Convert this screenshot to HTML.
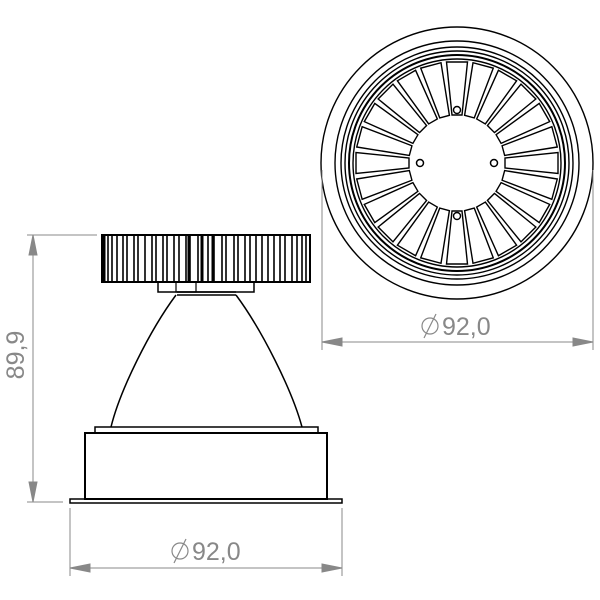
<!DOCTYPE html>
<html><head><style>
html,body{margin:0;padding:0;background:#fff;width:600px;height:600px;overflow:hidden}
svg{display:block}
text{font-family:"Liberation Sans",sans-serif;fill:#888}
</style></head><body>
<svg width="600" height="600" viewBox="0 0 600 600" xmlns="http://www.w3.org/2000/svg">
<defs>
<polygon id="sp" points="-5,-48 5,-48 10.5,-101 -10.5,-101" fill="none" stroke="#000" stroke-width="1.4"/>
</defs>
<!-- top view -->
<g fill="none" stroke="#000" stroke-width="1.4">
<circle cx="457" cy="163" r="136"/>
<circle cx="457" cy="163" r="122"/>
<circle cx="457" cy="163" r="116"/>
<circle cx="457" cy="163" r="112"/>
<circle cx="457" cy="163" r="108" stroke-width="2"/>
<circle cx="457" cy="163" r="104"/>
</g>
<g transform="translate(457,163)">
<use href="#sp" transform="rotate(0)"/><use href="#sp" transform="rotate(15)"/><use href="#sp" transform="rotate(30)"/><use href="#sp" transform="rotate(45)"/>
<use href="#sp" transform="rotate(60)"/><use href="#sp" transform="rotate(75)"/><use href="#sp" transform="rotate(90)"/><use href="#sp" transform="rotate(105)"/>
<use href="#sp" transform="rotate(120)"/><use href="#sp" transform="rotate(135)"/><use href="#sp" transform="rotate(150)"/><use href="#sp" transform="rotate(165)"/>
<use href="#sp" transform="rotate(180)"/><use href="#sp" transform="rotate(195)"/><use href="#sp" transform="rotate(210)"/><use href="#sp" transform="rotate(225)"/>
<use href="#sp" transform="rotate(240)"/><use href="#sp" transform="rotate(255)"/><use href="#sp" transform="rotate(270)"/><use href="#sp" transform="rotate(285)"/>
<use href="#sp" transform="rotate(300)"/><use href="#sp" transform="rotate(315)"/><use href="#sp" transform="rotate(330)"/><use href="#sp" transform="rotate(345)"/>
<circle cx="-37" cy="0" r="3.5" fill="#fff" stroke="#000" stroke-width="1.5"/>
<circle cx="37" cy="0" r="3.5" fill="#fff" stroke="#000" stroke-width="1.5"/>
<circle cx="0" cy="-53" r="3.5" fill="#fff" stroke="#000" stroke-width="1.4"/>
<circle cx="0" cy="53" r="3.5" fill="#fff" stroke="#000" stroke-width="1.4"/>
</g>
<!-- side view -->
<g fill="none" stroke="#000" stroke-width="1.5">
<rect x="102" y="235" width="208" height="47" stroke-width="2"/>
<path d="M108 236V281M112 236V281M117 236V281M123 236V281M127 236V281M134 236V281M138 236V281M145 236V281M152 236V281M156 236V281M163 236V281M167 236V281M174 236V281M179 236V281M186 236V281M190 236V281M198 236V281M202 236V281M208 236V281M214 236V281M222 236V281M226 236V281M234 236V281M238 236V281M245 236V281M250 236V281M256 236V281M262 236V281M268 236V281M274 236V281M280 236V281M285 236V281M292 236V281M297 236V281M302 236V281M306 236V281" stroke-width="1.6"/>
<path d="M189 236V281M202 236V281M213 236V281M104 236V281" stroke-width="3"/>
<rect x="158" y="282" width="96" height="10"/>
<rect x="176" y="282" width="20" height="10" stroke-width="1.2"/>
<path d="M177 292H236M177 295H236"/>
<path d="M176 295 C150 330 120 390 111 427"/>
<path d="M236 295 C262 330 292 390 302 427"/>
<rect x="95" y="427" width="223" height="6"/>
<rect x="85" y="433" width="242" height="66" stroke-width="2"/>
<rect x="70" y="499" width="272" height="4" stroke-width="1.5"/>
</g>
<!-- dimensions -->
<g stroke="#888" stroke-width="1" fill="#888">
<path d="M27 235H97M27 502H63M33 235V502" fill="none"/>
<polygon points="33,235 29,255 37,255"/><polygon points="33,502 29,482 37,482"/>
<path d="M70 508V576M342 508V576M70 568H342" fill="none"/>
<polygon points="70,568 90,564 90,572"/><polygon points="342,568 322,564 322,572"/>
<path d="M322 170V350M593 170V350M322 342H593" fill="none"/>
<polygon points="322,342 342,338 342,346"/><polygon points="593,342 573,338 573,346"/>
</g>
<g fill="none" stroke="#888" stroke-width="1.2">
<circle cx="180" cy="551" r="8"/><path d="M174 563L186 539"/>
<circle cx="430" cy="326" r="8"/><path d="M424 338L436 314"/>
</g>
<text x="192" y="560" font-size="25">92,0</text>
<text x="442" y="335" font-size="25">92,0</text>
<text x="24" y="355" font-size="25" text-anchor="middle" transform="rotate(-90 24 355)">89,9</text>
</svg>
</body></html>
